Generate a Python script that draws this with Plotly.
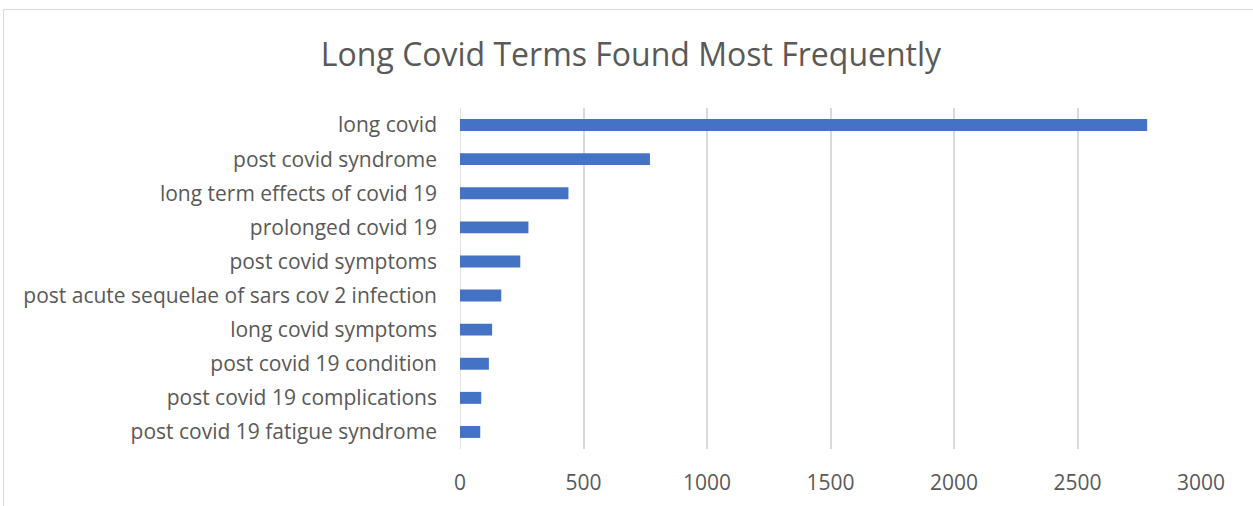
import plotly.graph_objects as go

W, H = 1253, 506

terms = [
    "long covid",
    "post covid syndrome",
    "long term effects of covid 19",
    "prolonged covid 19",
    "post covid symptoms",
    "post acute sequelae of sars cov 2 infection",
    "long covid symptoms",
    "post covid 19 condition",
    "post covid 19 complications",
    "post covid 19 fatigue syndrome",
]
counts = [2782, 769, 439, 277, 244, 167, 130, 117, 86, 82]
x_ticks = [0, 500, 1000, 1500, 2000, 2500, 3000]

FONT = "Open Sans"
TXT = "#595959"
GRID = "#d9d9d9"

fig = go.Figure(
    go.Bar(
        x=counts,
        y=terms,
        orientation="h",
        marker=dict(color="#4472C4", line=dict(width=0)),
        width=0.35,
    )
)

fig.update_layout(
    width=W,
    height=H,
    margin=dict(l=0, r=0, t=0, b=0),
    paper_bgcolor="white",
    plot_bgcolor="white",
    showlegend=False,
    title=dict(
        text="Long Covid Terms Found Most Frequently",
        x=631 / W,
        xanchor="center",
        y=1 - 55 / H,
        yanchor="middle",
        font=dict(family=FONT, size=32, color=TXT),
    ),
    xaxis=dict(
        domain=[460 / W, 1201 / W],
        range=[0, 3000],
        tickvals=x_ticks,
        ticktext=[str(v) for v in x_ticks],
        showgrid=True,
        gridcolor=GRID,
        gridwidth=1.5,
        zeroline=False,
        showline=False,
        ticks="",
        tickfont=dict(family=FONT, size=21, color=TXT),
        ticklabelstandoff=19,
        automargin=False,
    ),
    yaxis=dict(
        domain=[(H - 449) / H, (H - 108) / H],
        autorange="reversed",
        showgrid=False,
        zeroline=False,
        showline=False,
        ticks="",
        tickfont=dict(family=FONT, size=21, color=TXT),
        ticklabelstandoff=22,
        automargin=False,
    ),
    font=dict(family=FONT, color=TXT),
    shapes=[
        dict(
            type="rect",
            xref="paper",
            yref="paper",
            x0=3.5 / W,
            x1=1.05,
            y0=-0.05,
            y1=1 - 9.5 / H,
            line=dict(color=GRID, width=1),
            fillcolor="rgba(0,0,0,0)",
            layer="below",
        ),
        dict(
            type="line",
            xref="x",
            yref="paper",
            x0=0,
            x1=0,
            y0=(H - 449) / H,
            y1=(H - 108) / H,
            line=dict(color=GRID, width=1.5),
            layer="below",
        ),
    ],
)

fig.write_html(
    "out.html",
    config={"displayModeBar": False},
    post_script="document.body.style.margin='0';document.body.style.overflow='hidden';",
)
